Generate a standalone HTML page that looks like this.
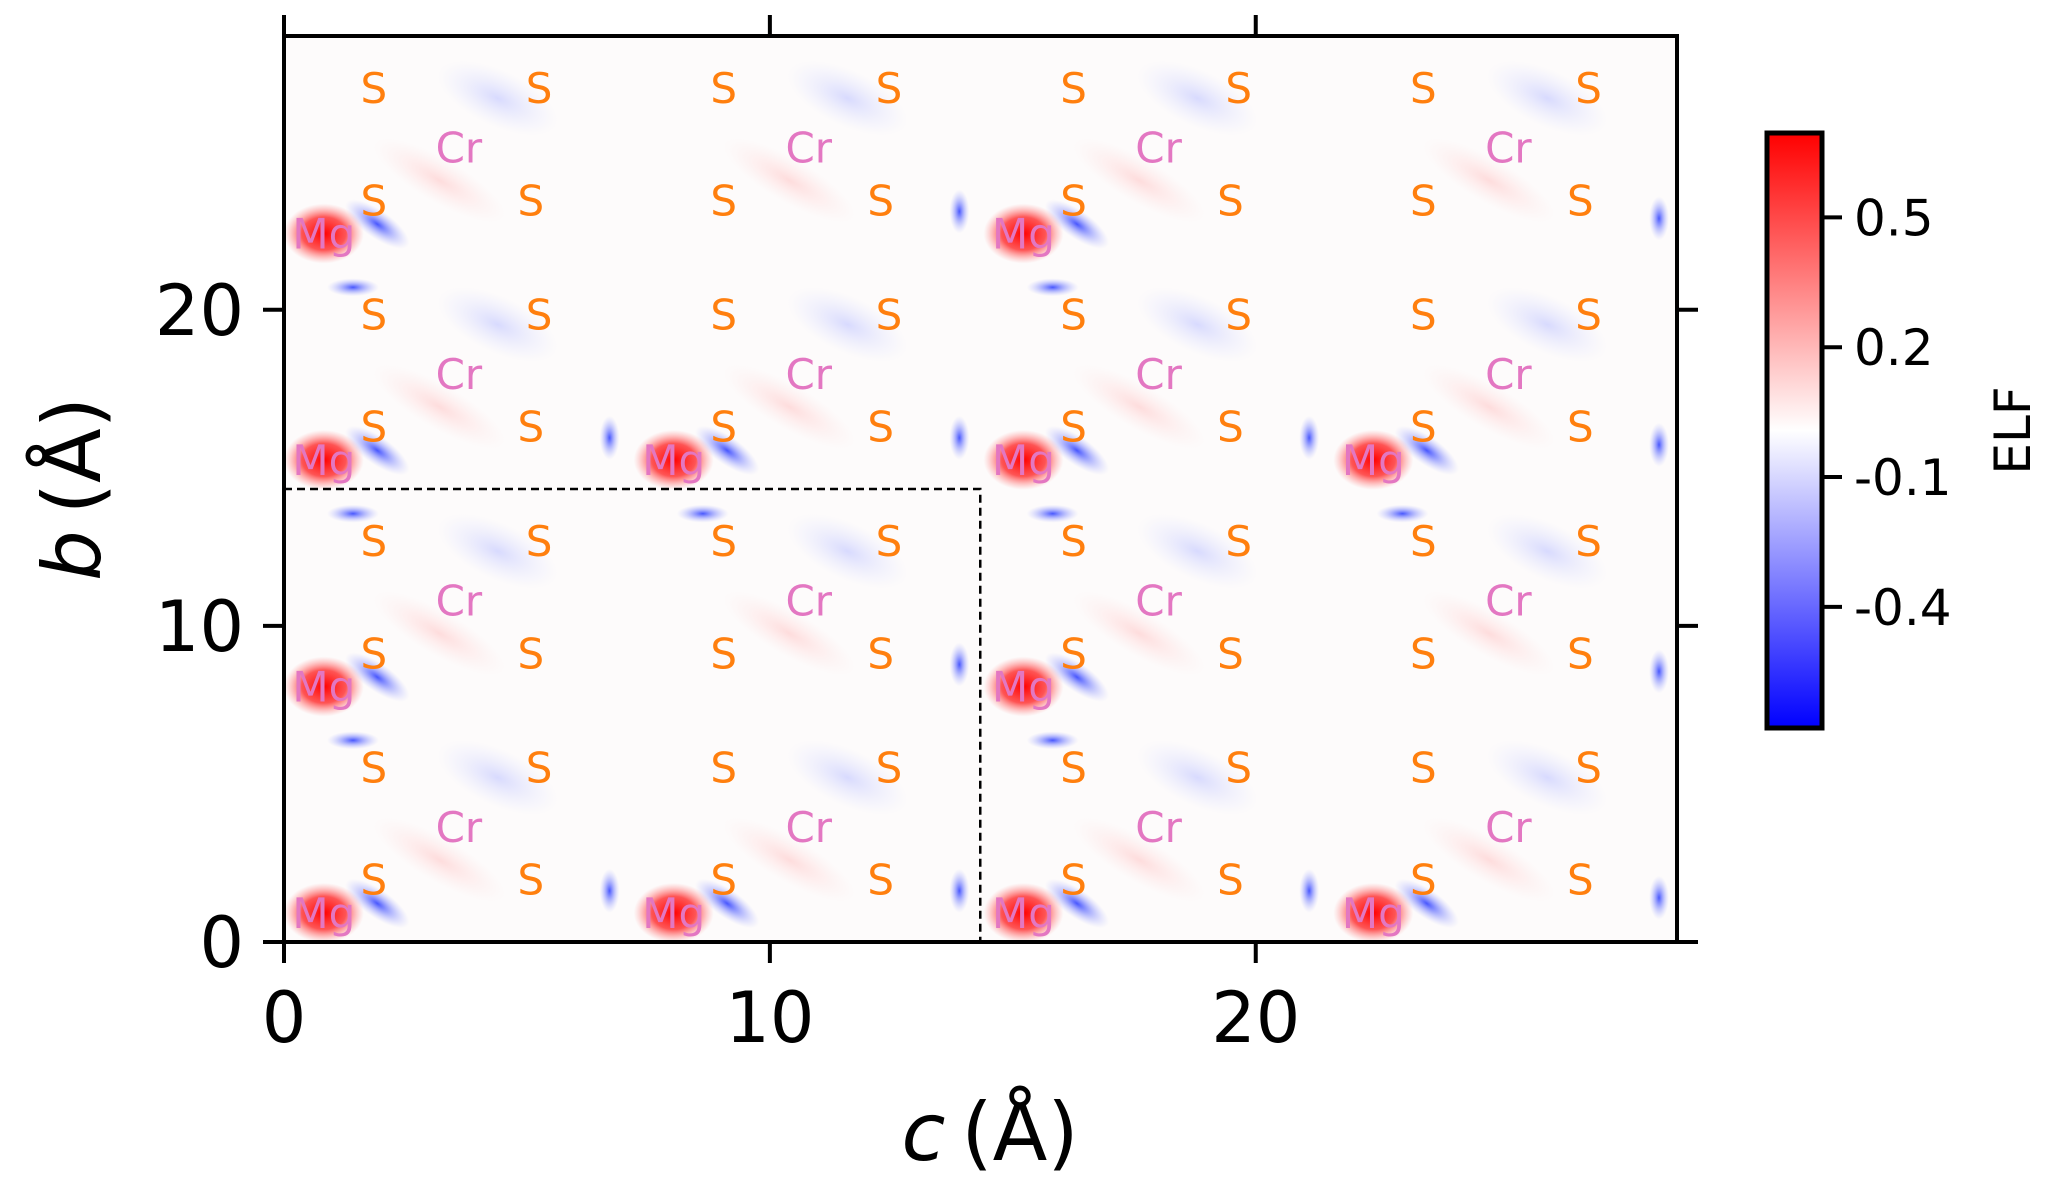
<!DOCTYPE html>
<html><head><meta charset="utf-8"><style>
html,body{margin:0;padding:0;background:#fff;}
svg{display:block;font-family:"DejaVu Sans","Liberation Sans",sans-serif;}
</style></head><body>
<svg id="chart" width="2072" height="1201" viewBox="0 0 2072 1201">
<defs>
<radialGradient id="gRed"><stop offset="0" stop-color="#ff0000" stop-opacity="1"/><stop offset="0.55" stop-color="#ff2a2a" stop-opacity="0.8"/><stop offset="1" stop-color="#ff8080" stop-opacity="0"/></radialGradient>
<radialGradient id="gBlue"><stop offset="0" stop-color="#3344ff" stop-opacity="0.9"/><stop offset="1" stop-color="#aab0ff" stop-opacity="0"/></radialGradient>
<radialGradient id="gBlueL"><stop offset="0" stop-color="#c8ccff" stop-opacity="0.7"/><stop offset="1" stop-color="#e0e3ff" stop-opacity="0"/></radialGradient>
<radialGradient id="gPink"><stop offset="0" stop-color="#ffc8c8" stop-opacity="0.6"/><stop offset="1" stop-color="#ffe0e0" stop-opacity="0"/></radialGradient>
<linearGradient id="cbarGrad" x1="0" y1="1" x2="0" y2="0">
<stop offset="0" stop-color="#0000ff"/><stop offset="0.5" stop-color="#ffffff"/><stop offset="1" stop-color="#ff0000"/></linearGradient>
<clipPath id="plotClip"><rect x="284" y="36" width="1393" height="906"/></clipPath>
</defs>
<rect x="284" y="36" width="1393" height="906" fill="#fdfbfb"/>
<g id="gField" clip-path="url(#plotClip)"></g>
<g id="gLabels" clip-path="url(#plotClip)"></g>
<g id="gAxes"></g>
</svg>
<script>
var xTicks=[0,10,20];
var yTicks=[0,10,20];
var cbTicks=[0.5,0.2,-0.1,-0.4];
var cbTickLabels=["0.5","0.2","-0.1","-0.4"];
var cellC=[0,7.2,14.4,21.6];
var cellB=[0,7.16,14.33,21.49];
var sitesC=[1.85,5.08,1.85,5.25];
var sitesB=[1.97,1.97,5.52,5.52];
var crC=[3.6];
var crB=[3.64];
var mgC=0.82, mgB=0.92;
var boxC=14.33, boxB=14.33;
var xMax=28.67, yMax=28.66;
var cbMin=-0.68, cbMax=0.695;

var PL=284,PR=1677,PT=36,PB=942;
function sx(v){return PL+v/xMax*(PR-PL);}
function sy(v){return PB-v/yMax*(PB-PT);}
var CBT=133,CBB=728,CBX=1767,CBW=55;
function cy(v){return CBB-(v-cbMin)/(cbMax-cbMin)*(CBB-CBT);}
var SVGNS="http://www.w3.org/2000/svg";
function mk(tag,attrs,parent){var e=document.createElementNS(SVGNS,tag);for(var k in attrs)e.setAttribute(k,attrs[k]);parent.appendChild(e);return e;}
var gF=document.getElementById('gField'),gL=document.getElementById('gLabels'),gA=document.getElementById('gAxes');

try{
cellC.forEach(function(c0,i){cellB.forEach(function(b0,j){
  var e=mk('ellipse',{cx:sx(c0+4.4),cy:sy(b0+5.2),rx:65,ry:28,fill:'url(#gBlueL)',transform:'rotate(25 '+sx(c0+4.4)+' '+sy(b0+5.2)+')'},gF);
  
  
  e=mk('ellipse',{cx:sx(c0+3.2),cy:sy(b0+2.6),rx:75,ry:22,fill:'url(#gPink)',transform:'rotate(30 '+sx(c0+3.2)+' '+sy(b0+2.6)+')'},gF);
  
  
  if((i%2===0)||(j%2===0)){
    e=mk('ellipse',{cx:sx(c0+mgC+1.1),cy:sy(b0+mgB+0.3),rx:38,ry:14,fill:'url(#gBlue)',transform:'rotate(35 '+sx(c0+mgC+1.1)+' '+sy(b0+mgB+0.3)+')'},gF);
    
    
    e=mk('ellipse',{cx:sx(c0+mgC+0.6),cy:sy(b0+mgB-1.7),rx:26,ry:9,fill:'url(#gBlue)'},gF);
    
    
    e=mk('ellipse',{cx:sx(c0-0.5),cy:sy(b0+mgB+0.7),rx:10,ry:22,fill:'url(#gBlue)'},gF);
    
    
    e=mk('ellipse',{cx:sx(c0+mgC),cy:sy(b0+mgB),rx:40,ry:30,fill:'url(#gRed)'},gF);
    
    
  }
});});
cellB.forEach(function(b0){var e=mk('ellipse',{cx:sx(28.3),cy:sy(b0+1.4),rx:10,ry:22,fill:'url(#gBlue)'},gF);
 
 });
}catch(err){}

function atom(txt,c,b,col,name){
  var t=mk('text',{x:sx(c),y:sy(b)+15,'font-size':42,fill:col,'text-anchor':'middle'},gL);
  t.textContent=txt;
  
  
}
try{
cellC.forEach(function(c0,i){cellB.forEach(function(b0,j){
  sitesC.forEach(function(sc,k){atom('S',c0+sc,b0+sitesB[k],'#ff7f0e','atom-label-s');});
  crC.forEach(function(cc,k){atom('Cr',c0+cc,b0+crB[k],'#e377c2','atom-label-cr');});
  if((i%2===0)||(j%2===0)){atom('Mg',c0+mgC,b0+mgB,'#e377c2','atom-label-mg');}
});});
var dl=mk('polyline',{points:sx(0)+','+sy(boxB)+' '+sx(boxC)+','+sy(boxB)+' '+sx(boxC)+','+sy(0),fill:'none',stroke:'#000','stroke-width':2.5,'stroke-dasharray':'8,5'},gL);


}catch(err){}

var fr=mk('rect',{x:PL,y:PT,width:PR-PL,height:PB-PT,fill:'none',stroke:'#000','stroke-width':4},gA);


xTicks.forEach(function(v){
  var t=mk('line',{x1:sx(v),x2:sx(v),y1:PB,y2:PB+21,stroke:'#000','stroke-width':4},gA);
  
  
  t=mk('line',{x1:sx(v),x2:sx(v),y1:PT,y2:PT-21,stroke:'#000','stroke-width':4},gA);
  
  
  var s=mk('text',{x:sx(v),y:PB+100,'font-size':70,'text-anchor':'middle'},gA);
  s.textContent=String(v);
  
  
});
yTicks.forEach(function(v){
  var t=mk('line',{x1:PL-21,x2:PL,y1:sy(v),y2:sy(v),stroke:'#000','stroke-width':4},gA);
  
  
  t=mk('line',{x1:PR,x2:PR+21,y1:sy(v),y2:sy(v),stroke:'#000','stroke-width':4},gA);
  
  
  var s=mk('text',{x:PL-40,y:sy(v)+25,'font-size':70,'text-anchor':'end'},gA);
  s.textContent=String(v);
  
  
});
function axTitle(letter,attrs,name){
  var t=mk('text',attrs,gA);
  var a=mk('tspan',{'font-style':'italic'},t);a.textContent=letter;
  var b=mk('tspan',{},t);b.textContent='\u2009(Å)';
  
  
}
axTitle('c',{x:990,y:1160,'font-size':80,'text-anchor':'middle'},'x-axis-title');
axTitle('b',{x:0,y:0,'font-size':80,'text-anchor':'middle',transform:'translate(100 '+((PT+PB)/2)+') rotate(-90)'},'y-axis-title');

var cbr=mk('rect',{x:CBX,y:CBT,width:CBW,height:CBB-CBT,fill:'url(#cbarGrad)',stroke:'#000','stroke-width':5},gA);


cbTicks.forEach(function(v,k){
  var t=mk('line',{x1:CBX+CBW,x2:CBX+CBW+20,y1:cy(v),y2:cy(v),stroke:'#000','stroke-width':4},gA);
  
  
  var s=mk('text',{x:CBX+CBW+32,y:cy(v)+18,'font-size':50},gA);
  s.textContent=cbTickLabels[k];
  
  
});
var cl=mk('text',{x:0,y:0,'font-size':50,'text-anchor':'middle',transform:'translate(2030 '+((CBT+CBB)/2)+') rotate(-90)'},gA);
cl.textContent='ELF';


</script>
</body></html>
